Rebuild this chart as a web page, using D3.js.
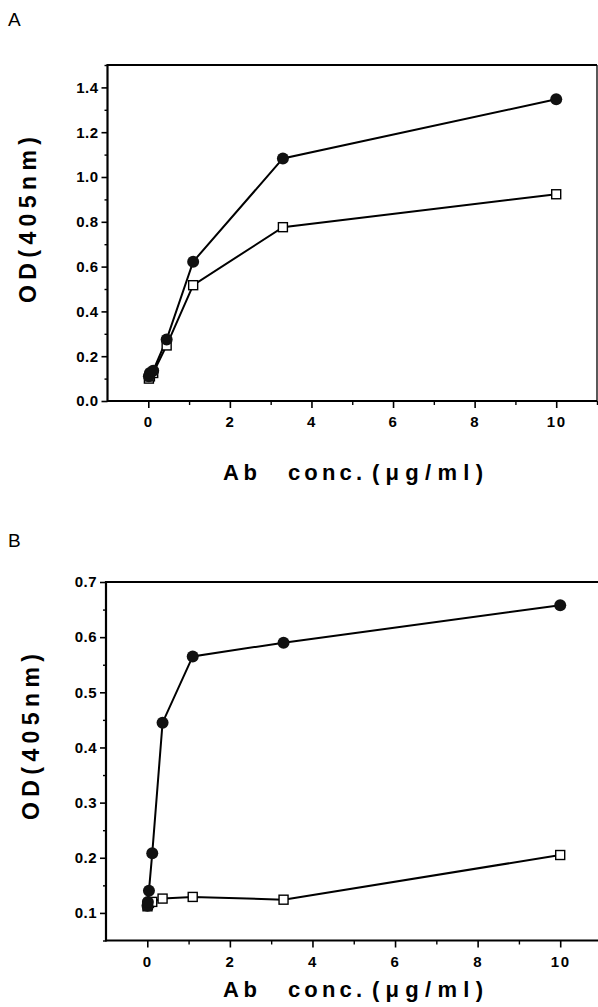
<!DOCTYPE html>
<html>
<head>
<meta charset="utf-8">
<script src="https://cdn.jsdelivr.net/npm/d3@7"></script>
<style>
  html, body { margin: 0; padding: 0; background: #fff; }
  svg { display: block; }
  text { font-family: "Liberation Sans", Arial, sans-serif; fill: #000; }
</style>
</head>
<body>
<svg id="chart" width="598" height="1007"></svg>
<script>
// ---- Data ----
const panelLabels = ["A", "B"];
const xTitle = ["Ab", "conc.", "(μg/ml)"];
const yTitle = "OD(405nm)";

// Panel A
const xA = [0.015, 0.04, 0.12, 0.45, 1.1, 3.3, 10];
const filledA = [0.11, 0.125, 0.135, 0.275, 0.622, 1.083, 1.347];
const openA = [0.10, 0.11, 0.125, 0.248, 0.517, 0.776, 0.923];
const yTicksA = [0, 0.2, 0.4, 0.6, 0.8, 1.0, 1.2, 1.4];
const yMinorA = [0.1, 0.3, 0.5, 0.7, 0.9, 1.1, 1.3, 1.5];

// Panel B
const xB = [0.005, 0.014, 0.04, 0.12, 0.37, 1.1, 3.3, 10];
const filledB = [0.113, 0.12, 0.14, 0.208, 0.445, 0.565, 0.59, 0.658];
const openB = [0.112, 0.115, 0.118, 0.12, 0.126, 0.129, 0.124, 0.205];
const yTicksB = [0.1, 0.2, 0.3, 0.4, 0.5, 0.6, 0.7];
const yMinorB = [0.05, 0.15, 0.25, 0.35, 0.45, 0.55, 0.65];

// Shared x ticks
const xTicks = [0, 2, 4, 6, 8, 10];
const xMinor = [1, 3, 5, 7, 9, 11];

const svg = d3.select("#chart");

function drawPanel(cfg) {
  const g = svg.append("g");
  const x = d3.scaleLinear().domain([-1, 11]).range([cfg.left, cfg.right]);
  const y = d3.scaleLinear().domain(cfg.yDomain).range([cfg.bottom, cfg.top]);

  // panel letter
  g.append("text").attr("x", 8).attr("y", cfg.letterY)
    .style("font-size", "19px").text(cfg.letter);

  // y axis ticks (major with labels)
  const ya = g.append("g").attr("transform", `translate(${cfg.left},0)`)
    .call(d3.axisLeft(y).tickValues(cfg.yTicks).tickFormat(d3.format(".1f"))
      .tickSize(6).tickSizeOuter(0).tickPadding(3));
  ya.select(".domain").remove();
  ya.selectAll("line").attr("stroke", "#000").attr("stroke-width", 1.6);
  ya.selectAll("text").style("font-size", "15px").style("font-weight", "bold")
    .style("letter-spacing", "0.5px")
    .style("font-family", "'Liberation Sans', Arial, sans-serif");
  const ym = g.append("g").attr("transform", `translate(${cfg.left},0)`)
    .call(d3.axisLeft(y).tickValues(cfg.yMinor).tickFormat("").tickSize(3).tickSizeOuter(0));
  ym.select(".domain").remove();
  ym.selectAll("line").attr("stroke", "#000").attr("stroke-width", 1.4);

  // x axis ticks
  const xa = g.append("g").attr("transform", `translate(0,${cfg.bottom})`)
    .call(d3.axisBottom(x).tickValues(xTicks).tickFormat(d3.format("d"))
      .tickSize(7).tickSizeOuter(0).tickPadding(5));
  xa.select(".domain").remove();
  xa.selectAll("line").attr("stroke", "#000").attr("stroke-width", 1.6);
  xa.selectAll("text").style("font-size", "15px").style("font-weight", "bold")
    .style("letter-spacing", "1.5px")
    .style("font-family", "'Liberation Sans', Arial, sans-serif")
    .attr("dy", null).attr("y", cfg.xLabelY - cfg.bottom);
  const xm = g.append("g").attr("transform", `translate(0,${cfg.bottom})`)
    .call(d3.axisBottom(x).tickValues(xMinor).tickFormat("").tickSize(4).tickSizeOuter(0));
  xm.select(".domain").remove();
  xm.selectAll("line").attr("stroke", "#000").attr("stroke-width", 1.4);

  // frame
  const fr = g.append("g").attr("stroke", "#000").attr("fill", "none");
  fr.append("line").attr("x1", cfg.left).attr("x2", cfg.right)
    .attr("y1", cfg.top).attr("y2", cfg.top).attr("stroke-width", cfg.topW);
  fr.append("line").attr("x1", cfg.right).attr("x2", cfg.right)
    .attr("y1", cfg.top).attr("y2", cfg.bottom).attr("stroke-width", 1.3);
  fr.append("line").attr("x1", cfg.left).attr("x2", cfg.right)
    .attr("y1", cfg.bottom).attr("y2", cfg.bottom).attr("stroke-width", 2.2);
  fr.append("line").attr("x1", cfg.left).attr("x2", cfg.left)
    .attr("y1", cfg.top - 1).attr("y2", cfg.bottom + 1).attr("stroke-width", 2.2);

  // data lines
  const line = d3.line().x(d => x(d[0])).y(d => y(d[1]));
  const open = cfg.xs.map((v, i) => [v, cfg.open[i]]);
  const filled = cfg.xs.map((v, i) => [v, cfg.filled[i]]);
  g.append("path").datum(open).attr("d", line)
    .attr("fill", "none").attr("stroke", "#000").attr("stroke-width", 2);
  g.append("path").datum(filled).attr("d", line)
    .attr("fill", "none").attr("stroke", "#000").attr("stroke-width", 2);

  // markers
  const s = 9;
  g.selectAll("rect.open").data(open).enter().append("rect")
    .attr("x", d => x(d[0]) - s / 2).attr("y", d => y(d[1]) - s / 2)
    .attr("width", s).attr("height", s)
    .attr("fill", "#fff").attr("stroke", "#000").attr("stroke-width", 1.4);
  g.selectAll("circle.filled").data(filled).enter().append("circle")
    .attr("cx", d => x(d[0])).attr("cy", d => y(d[1])).attr("r", 6)
    .attr("fill", "#111");

  // y title
  g.append("text")
    .attr("transform", `translate(${cfg.yTitleX},${cfg.yTitleCY}) rotate(-90)`)
    .attr("text-anchor", "middle")
    .attr("textLength", 166).attr("lengthAdjust", "spacing")
    .style("font-size", "23px").style("font-weight", "bold")
    .text(yTitle);

  // x title pieces
  const starts = [223, 288, 372];
  const lens = [34, 74, 111];
  xTitle.forEach((t, i) => {
    g.append("text").attr("x", starts[i]).attr("y", cfg.xTitleY)
      .attr("textLength", lens[i]).attr("lengthAdjust", "spacing")
      .style("font-size", "22px").style("font-weight", "bold").text(t);
  });
}

drawPanel({
  letter: panelLabels[0], letterY: 26,
  left: 107.5, right: 597, top: 65, bottom: 401,
  yDomain: [0, 1.5], yTicks: yTicksA, yMinor: yMinorA,
  xs: xA, filled: filledA, open: openA,
  xLabelY: 427, xTitleY: 480, yTitleX: 36, yTitleCY: 220, topW: 1.8
});

drawPanel({
  letter: panelLabels[1], letterY: 547,
  left: 106, right: 601.5, top: 582, bottom: 940.5,
  yDomain: [0.05, 0.7], yTicks: yTicksB, yMinor: yMinorB,
  xs: xB, filled: filledB, open: openB,
  xLabelY: 967, xTitleY: 997, yTitleX: 39, yTitleCY: 737, topW: 2.2
});
</script>
</body>
</html>
